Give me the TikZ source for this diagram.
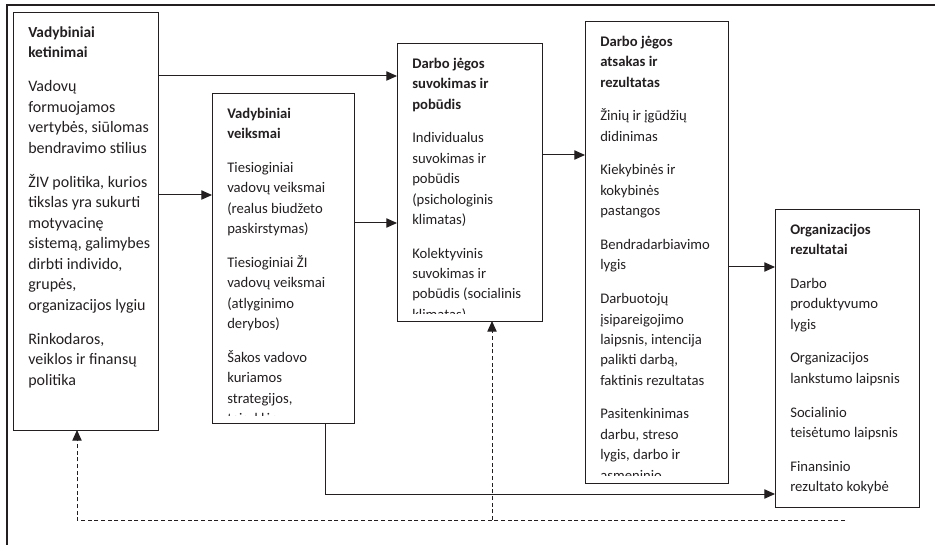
\documentclass[tikz,border=0pt]{standalone}
\usepackage{fontspec}
\setmainfont{Carlito}
\usetikzlibrary{calc,arrows.meta}
\definecolor{ink}{HTML}{231F20}
\newcommand\smalltitle[1]{\textbf{\fontsize{11.5}{15.4}\selectfont #1}}
\begin{document}
\begin{tikzpicture}[x=0.75pt,y=-0.75pt,
 box/.style={draw=ink,line width=0.75pt,anchor=north west,inner sep=0pt,outer sep=0pt},
 txt/.style={anchor=north west,inner sep=0pt,align=left,text=ink,font=\fontsize{11}{15.3}\selectfont},
 bigtxt/.style={txt,font=\fontsize{12}{15.4}\selectfont},
 arr/.style={draw=ink,line width=0.75pt,-{Triangle[length=8pt,width=7pt]}},
 dsh/.style={dash pattern=on 3pt off 2pt}]
\useasboundingbox (0,0) rectangle (935,545);
% outer frame (only top and left edges visible)
\coordinate (fTR) at (935,5);
\coordinate (fTL) at (7,5);
\coordinate (fBL) at (7,545);
\draw[ink,line width=1.6pt] (fTR) -- (fTL) -- (fBL);
% boxes
\node[box,minimum width=108.75pt,minimum height=312.75pt] (b1) at (13,13) {};
\node[box,minimum width=106.5pt,minimum height=246.75pt] (b2) at (212,94) {};
\node[box,minimum width=108.75pt,minimum height=207.75pt] (b3) at (397,44) {};
\node[box,minimum width=107.25pt,minimum height=345.75pt] (b4) at (585,22) {};
\node[box,minimum width=108pt,minimum height=222.75pt] (b5) at (775,210) {};
% texts
\begin{scope}
\clip (b1.north west) rectangle ($(b1.south east)+(0,-8)$);
\node[bigtxt] (t1) at ($(b1.north west)+(15,10.7)$) {\rule{0pt}{10pt}\smalltitle{Vadybiniai}\\\smalltitle{ketinimai}\\[10pt]
Vadovų\\formuojamos\\vertybės, siūlomas\\bendravimo stilius\\[10pt]
ŽIV politika, kurios\\tikslas yra sukurti\\motyvacinę\\sistemą, galimybes\\dirbti individo,\\grupės,\\organizacijos lygiu\\[10pt]
Rinkodaros,\\veiklos ir finansų\\politika};
\end{scope}
\begin{scope}
\clip (b2.north west) rectangle ($(b2.south east)+(0,-8)$);
\node[txt] (t2) at ($(b2.north west)+(15,10.7)$) {\rule{0pt}{10pt}\textbf{Vadybiniai}\\\textbf{veiksmai}\\[10pt]
Tiesioginiai\\vadovų veiksmai\\(realus biudžeto\\paskirstymas)\\[10pt]
Tiesioginiai ŽI\\vadovų veiksmai\\(atlyginimo\\derybos)\\[10pt]
Šakos vadovo\\kuriamos\\strategijos,\\taisyklės};
\end{scope}
\begin{scope}
\clip (b3.north west) rectangle ($(b3.south east)+(0,-8)$);
\node[txt] (t3) at ($(b3.north west)+(15,10.7)$) {\rule{0pt}{10pt}\textbf{Darbo jėgos}\\\textbf{suvokimas ir}\\\textbf{pobūdis}\\[10pt]
Individualus\\suvokimas ir\\pobūdis\\(psichologinis\\klimatas)\\[10pt]
Kolektyvinis\\suvokimas ir\\pobūdis (socialinis\\klimatas)};
\end{scope}
\begin{scope}
\clip (b4.north west) rectangle ($(b4.south east)+(0,-8)$);
\node[txt] (t4) at ($(b4.north west)+(15,10.7)$) {\rule{0pt}{10pt}\textbf{Darbo jėgos}\\\textbf{atsakas ir}\\\textbf{rezultatas}\\[10pt]
Žinių ir įgūdžių\\didinimas\\[10pt]
Kiekybinės ir\\kokybinės\\pastangos\\[10pt]
Bendradarbiavimo\\lygis\\[10pt]
Darbuotojų\\įsipareigojimo\\laipsnis, intencija\\palikti darbą,\\faktinis rezultatas\\[10pt]
Pasitenkinimas\\darbu, streso\\lygis, darbo ir\\asmeninio};
\end{scope}
\begin{scope}
\clip (b5.north west) rectangle ($(b5.south east)+(0,-8)$);
\node[txt] (t5) at ($(b5.north west)+(15,10.7)$) {\rule{0pt}{10pt}\textbf{Organizacijos}\\\textbf{rezultatai}\\[10pt]
Darbo\\produktyvumo\\lygis\\[10pt]
Organizacijos\\lankstumo laipsnis\\[10pt]
Socialinio\\teisėtumo laipsnis\\[10pt]
Finansinio\\rezultato kokybė};
\end{scope}
% connector levels
\coordinate (yA) at (0,76);
\coordinate (yB) at (0,195);
\coordinate (yC) at (0,223);
\coordinate (yD) at (0,155);
\coordinate (yE) at (0,267);
\coordinate (fDown) at (325,494);
\coordinate (dR) at (845,520);
\coordinate (dL) at (77,520);
\coordinate (dM) at (492,520);
\draw[arr] (b1.east |- yA) -- (b3.west |- yA);
\draw[arr] (b1.east |- yB) -- (b2.west |- yB);
\draw[arr] (b2.east |- yC) -- (b3.west |- yC);
\draw[arr] (b3.east |- yD) -- (b4.west |- yD);
\draw[arr] (b4.east |- yE) -- (b5.west |- yE);
\draw[arr] (fDown |- b2.south) -- (fDown) -- (b5.west |- fDown);
\draw[arr,dsh] (dR) -- (dL) -- (dL |- b1.south);
\draw[arr,dsh] (dM) -- (dM |- b3.south);
\end{tikzpicture}
\end{document}
